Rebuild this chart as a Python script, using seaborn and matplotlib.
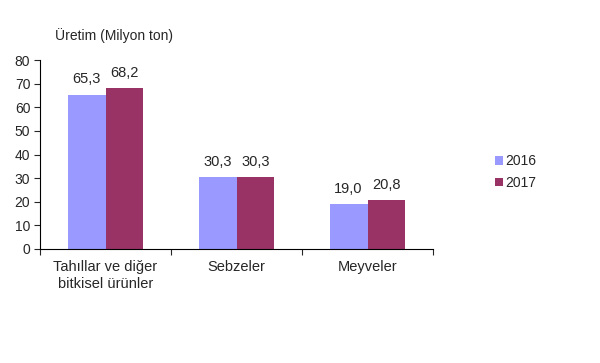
import matplotlib
matplotlib.use("Agg")
import matplotlib.pyplot as plt
import seaborn as sns
import pandas as pd
from matplotlib.patches import Patch

categories = ["Tahıllar ve diğer\nbitkisel ürünler", "Sebzeler", "Meyveler"]
years = ["2016", "2017"]
values_2016 = [65.3, 30.3, 19.0]
values_2017 = [68.2, 30.3, 20.8]
colors = ["#9999FF", "#993366"]

df = pd.DataFrame({
    "cat": categories * 2,
    "year": [years[0]] * 3 + [years[1]] * 3,
    "val": values_2016 + values_2017,
})

sns.set_style("white")
plt.rcParams['font.family'] = ['Liberation Sans', 'DejaVu Sans']

fig = plt.figure(figsize=(6, 3.63), dpi=100)
ax = fig.add_axes([40/600, 1-249/363, (433-40)/600, (249-60)/363])

sns.barplot(data=df, x="cat", y="val", hue="year", palette=colors,
            width=0.58, gap=0, ax=ax, legend=False, saturation=1, linewidth=0)

for container in ax.containers:
    ax.bar_label(container, labels=[f"{v:.1f}".replace(".", ",") for v in container.datavalues],
                 padding=6, fontsize=10.5)

ax.set_ylim(0, 80)
ax.set_xlim(-0.5, 2.5)
ax.set_yticks(range(0, 81, 10))
ax.tick_params(axis="y", labelsize=10, length=4, width=0.8, direction="out", left=True, pad=3)
ax.set_xticks([0, 1, 2])
ax.set_xticklabels(categories, fontsize=10.5, linespacing=1.25)
ax.tick_params(axis="x", length=0, pad=8)
ax.set_xticks([-0.5, 0.5, 1.5, 2.5], minor=True)
ax.tick_params(axis="x", which="minor", length=4, width=0.8, direction="out", bottom=True)
ax.set_xlabel("")
ax.set_ylabel("")
for s in ["top", "right"]:
    ax.spines[s].set_visible(False)
for s in ["left", "bottom"]:
    ax.spines[s].set_color("black")
    ax.spines[s].set_linewidth(0.8)

fig.text(55/600, 1-36/363, "Üretim (Milyon ton)", fontsize=10, va="center", ha="left")

handles = [Patch(facecolor=c, edgecolor="none") for c in colors]
fig.legend(handles, years, loc="center left", bbox_to_anchor=(482/600, 1-172/363),
           frameon=False, fontsize=10, handlelength=0.6, handleheight=0.6,
           handletextpad=0.15, labelspacing=0.55)

fig.savefig("out.png", dpi=100)
